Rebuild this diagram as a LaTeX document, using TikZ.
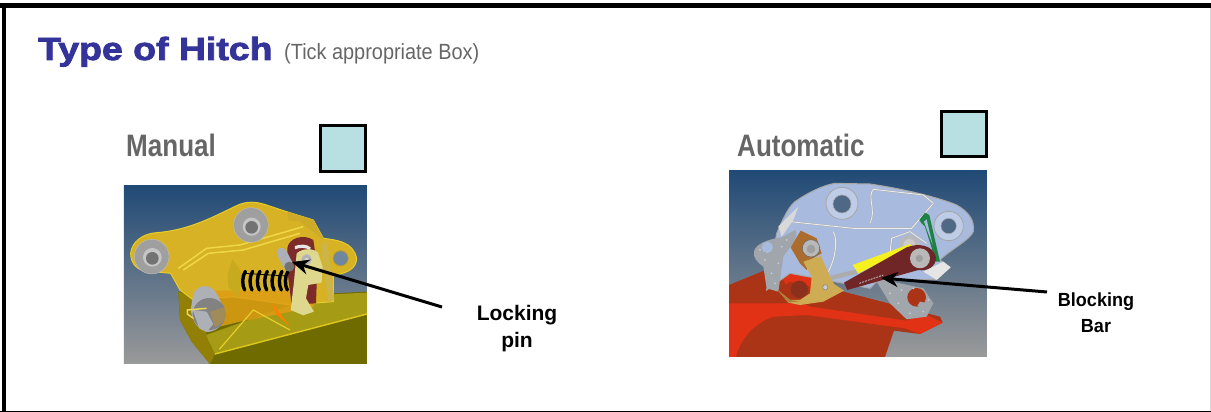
\documentclass[tikz,border=0pt]{standalone}
\usepackage{fontspec}
\setmainfont{Liberation Sans}
\newfontfamily\titlefont[FakeStretch=1.17,FakeBold=2.5]{Liberation Sans Bold}
\newfontfamily\narrowfont[FakeStretch=0.905]{Liberation Sans}
\newfontfamily\narrowbold[FakeStretch=0.84]{Liberation Sans Bold}
\newfontfamily\blockfont[FakeStretch=0.95]{Liberation Sans Bold}
\usetikzlibrary{arrows.meta}
\definecolor{titleblue}{HTML}{333399}
\definecolor{labelgrey}{HTML}{666666}
\definecolor{tickfill}{HTML}{B8E0E2}
\definecolor{skytop}{HTML}{214A76}
\definecolor{skybot}{HTML}{9A9A9A}
\tikzset{
  tickbox/.style={draw=black,line width=3pt,fill=tickfill},
  typelabel/.style={font=\narrowbold\fontsize{31}{31}\selectfont,text=labelgrey,inner sep=0pt},
  calllabel/.style={align=center,inner sep=0pt,text=black},
  callout/.style={draw=black,line width=3pt,-{Stealth[length=17pt,width=15pt]}},
  sky/.style={top color=skytop,bottom color=skybot,draw=none},
  zoomed/.style={x=0.3333pt,y=-0.3333pt},
  washer/.style={fill=#1,draw=gray!50,line width=.4pt},
  speck/.style={fill=#1,draw=none},
  ridge/.style={draw=gray!65,line width=.4pt,double=white!85!gray,double distance=.9pt}
}
\begin{document}
\begin{tikzpicture}[x=1pt,y=-1pt]
\useasboundingbox (0,0) rectangle (1211,412);
\fill[white] (0,0) rectangle (1211,412);
% frame: black on top and left, hairline at the bottom, pale on the right
\fill[black] (0,2.7) rectangle (1211,7.7);
\fill[black] (1.7,2.7) rectangle (6,412);
\fill[black] (0,411) rectangle (1211,412);
\fill[gray!30] (1209.5,7.7) rectangle (1211,411);

\node[anchor=base west,inner sep=0pt,text=titleblue,font=\titlefont\fontsize{32}{32}\selectfont] (title) at (38pt,-60pt) {Type of Hitch};
\node[anchor=base west,inner sep=0pt,text=labelgrey,font=\narrowfont\fontsize{22}{22}\selectfont] (tick) at (284pt,-60pt) {(Tick appropriate Box)};

\node[typelabel,anchor=base west] (manual) at (126pt,-157pt) {Manual};
\node[typelabel,anchor=base west] (auto) at (737pt,-157pt) {Automatic};
\node[tickbox,minimum width=45pt,minimum height=45.7pt,inner sep=0pt,outer sep=0pt,anchor=north west] (boxm) at (320.8pt,-125.5pt) {};
\node[tickbox,minimum width=45pt,minimum height=45.7pt,inner sep=0pt,outer sep=0pt,anchor=north west] (boxa) at (941pt,-111pt) {};

% ---------- manual hitch picture
\begin{scope}[shift={(100pt,-170pt)},zoomed]
\fill[sky] (72,48) rectangle (801,582);
% bucket
\fill[fill={rgb,255:red,112;green,107;blue,0}] (235,365) -- (400,385) -- (801,365) -- (801,582) -- (330,582) -- (275,515) -- (240,450) -- cycle;
\fill[fill={rgb,255:red,145;green,128;blue,5}] (235,365) -- (330,400) -- (318,495) -- (345,552) -- (330,582) -- (275,515) -- (240,450) -- cycle;
\fill[fill={rgb,255:red,166;green,155;blue,20}] (318,495) -- (660,375) -- (801,368) -- (801,432) -- (345,552) -- cycle;
\draw[line width=1.4pt,color={rgb,255:red,222;green,200;blue,30}] (345,552) -- (801,432);
% plate
\fill[fill={rgb,255:red,214;green,178;blue,36},draw={rgb,255:red,232;green,205;blue,40},line width=1pt]
  (92,250) .. controls (95,215) and (130,190) .. (170,188) .. controls (270,180) and (340,140) .. (410,107)
  .. controls (440,92) and (470,95) .. (500,105) -- (560,125) -- (640,150) -- (670,205)
  .. controls (710,210) and (760,215) .. (770,265) .. controls (770,295) and (740,312) .. (700,315)
  -- (700,395) -- (570,405) -- (400,380) -- (280,390) -- (240,360) -- (212,310) -- (130,302) .. controls (105,295) and (92,275) .. (92,250) -- cycle;
\fill[fill={rgb,255:red,112;green,134;blue,156},draw={rgb,255:red,190;green,160;blue,40},line width=.8pt] (722,265) circle[radius=23];
% ridge
\draw[line width=1.5pt,color={rgb,255:red,240;green,215;blue,70}] (235,295) -- (320,235) -- (420,225) -- (610,170);
\draw[line width=1.5pt,color={rgb,255:red,240;green,215;blue,70}] (250,300) -- (325,250) -- (430,240) -- (600,190);
% upper corner and right bar
\fill[fill={rgb,255:red,205;green,170;blue,40}] (562,125) -- (640,150) -- (672,210) -- (600,155) -- (565,150) -- cycle;
\fill[fill={rgb,255:red,205;green,180;blue,70}] (662,225) -- (682,212) -- (703,390) -- (685,398) -- cycle;
% washers
\fill[washer=gray!75] (453,165) ellipse[x radius=52,y radius=52];
\fill[fill=gray!45] (455,170) circle[radius=27];
\fill[fill=gray!90!black] (455,172) circle[radius=19];
\fill[washer=gray!75] (155,260) ellipse[x radius=52,y radius=52];
\fill[fill=gray!45] (157,262) circle[radius=28];
\fill[fill=gray!90!black] (157,265) circle[radius=19];
% amber translucent
\fill[fill={rgb,255:red,222;green,158;blue,20},opacity=.85] (345,362) -- (565,362) -- (650,385) -- (640,412) -- (420,455) -- (350,472) -- (330,432) -- cycle;
\draw[color={rgb,255:red,232;green,205;blue,40},line width=1.2pt] (358,538) -- (460,420) -- (570,480);
\fill[fill=orange] (515,398) -- (572,472) -- (528,432) -- cycle;
% cam and lever
\fill[fill={rgb,255:red,125;green,42;blue,42}] (562,235) .. controls (565,205) and (610,190) .. (640,210) -- (652,290) -- (648,400) -- (575,405) -- (562,300) -- cycle;
\fill[fill=white!80!gray] (585,228) .. controls (600,222) and (620,222) .. (632,232) -- (630,240) .. controls (615,232) and (600,232) .. (585,238) -- cycle;
\fill[fill={rgb,255:red,222;green,216;blue,142}] (590,250) .. controls (610,232) and (645,235) .. (655,250) -- (668,290) -- (665,338) -- (625,345) -- (618,385) -- (642,425) -- (610,436) -- (572,420) -- (582,335) -- cycle;
\fill[washer=gray!60] (620,268) circle[radius=15];
\fill[fill=gray!30] (620,270) circle[radius=6];
% plate by the spring
\fill[fill={rgb,255:red,200;green,170;blue,30}] (383,312) -- (398,268) -- (426,308) -- (418,382) -- (385,350) -- cycle;
% spring
\foreach \sx in {0,22,44,66,88,110,128}
  \draw[line width=3.4pt,line cap=round,black] (436+\sx,304) .. controls (426+\sx,320) and (426+\sx,345) .. (434+\sx,360);
\draw[line width=.8pt,black] (430,310) -- (560,318);
% locking pin
\draw[line width=10pt,line cap=round,color={rgb,255:red,172;green,176;blue,186}] (545,248) -- (566,288);
\fill[fill=gray!90!black] (568,290) circle[radius=15];
% lower left pin
\fill[fill={rgb,255:red,174;green,176;blue,184}] (280,372) .. controls (295,340) and (335,340) .. (352,375) -- (376,420) .. controls (380,450) and (360,482) .. (325,486) .. controls (300,482) and (280,465) .. (272,420) -- cycle;
\fill[fill=gray!60!black!70] (328,432) ellipse[x radius=50,y radius=48];
\fill[fill={rgb,255:red,222;green,158;blue,20},opacity=.35] (330,425) -- (380,410) -- (378,450) -- (345,472) -- cycle;
\fill[fill={rgb,255:red,174;green,176;blue,184}] (278,420) -- (320,425) -- (340,462) -- (320,486) -- (298,475) -- cycle;
\draw[line width=1.5pt,color={rgb,255:red,235;green,215;blue,90}] (320,415) -- (262,420) -- (262,432) -- (280,445);
\end{scope}

% ---------- automatic hitch picture
\begin{scope}[shift={(710pt,-160pt)},zoomed]
\fill[sky] (57,33) rectangle (831,591);
% bucket
\fill[fill={rgb,255:red,172;green,52;blue,22}] (57,375) -- (160,333) -- (230,335) -- (400,395) -- (690,470) -- (698,488) -- (630,522) -- (552,512) -- (525,591) -- (57,591) -- cycle;
\fill[fill={rgb,255:red,226;green,50;blue,22}] (57,430) -- (280,430) -- (300,440) -- (590,482) -- (640,460) -- (698,488) -- (630,522) -- (585,505) -- (290,465) -- (190,470) .. controls (130,490) and (90,540) .. (78,591) -- (57,591) -- cycle;
\fill[fill={rgb,255:red,226;green,50;blue,22}] (205,330) -- (300,345) -- (400,390) -- (240,398) -- cycle;
% blue plate
\fill[fill={rgb,255:red,168;green,186;blue,222},draw=gray!70,line width=1pt]
  (170,390) -- (200,220) .. controls (215,185) and (235,140) .. (255,125) .. controls (290,100) and (340,75) .. (375,70)
  -- (480,72) .. controls (570,85) and (680,110) .. (740,135) .. controls (775,155) and (795,180) .. (790,215) .. controls (780,240) and (720,270) .. (690,300)
  -- (720,322) -- (680,358) -- (570,360) -- (500,365) -- (480,385) -- (240,340) -- cycle;
% ridges
\draw[ridge] (240,185) -- (430,205) -- (605,205) -- (670,130);
\draw[ridge] (480,190) .. controls (500,150) and (470,110) .. (490,88) -- (640,105) -- (670,130);
\draw[ridge] (370,215) .. controls (385,240) and (375,300) .. (355,335);
\draw[ridge] (540,280) -- (545,235) -- (600,215) -- (650,250);
\fill[fill=white!70!gray] (205,200) -- (265,140) -- (250,180) -- (215,230) -- cycle;
% holes
\fill[fill={rgb,255:red,190;green,204;blue,232},draw=gray!70,line width=.8pt] (396,130) circle[radius=48];
\fill[fill={rgb,255:red,78;green,104;blue,134},draw=gray!70,line width=.5pt] (396,132) circle[radius=27];
\fill[fill={rgb,255:red,190;green,204;blue,232},draw=gray!70,line width=.8pt] (716,198) circle[radius=44];
\fill[fill={rgb,255:red,78;green,104;blue,134},draw=gray!70,line width=.5pt] (716,198) circle[radius=23];
\fill[fill=gray!55] (598,255) circle[radius=30];
\fill[fill=white!60!gray] (598,255) circle[radius=18];
% green spring
\fill[fill={rgb,255:red,30;green,130;blue,70}] (628,180) -- (645,158) -- (658,165) -- (690,305) -- (678,305) -- (645,200) -- (635,190) -- cycle;
\fill[fill={rgb,255:red,168;green,186;blue,222}] (642,185) -- (650,178) -- (668,255) -- cycle;
% white tip
\fill[fill=white!80!gray] (640,335) -- (700,305) -- (722,322) -- (680,360) -- cycle;
% speckled plates
\fill[fill={rgb,255:red,160;green,166;blue,172}] (132,275) .. controls (135,250) and (185,235) .. (215,232) -- (255,210) .. controls (270,230) and (240,260) .. (220,290) -- (205,395) -- (170,385) -- (160,320) .. controls (140,305) and (130,295) .. (132,275) -- cycle;
\fill[fill={rgb,255:red,168;green,186;blue,222}] (172,262) circle[radius=17];
\fill[fill={rgb,255:red,160;green,166;blue,172}] (500,365) -- (530,360) -- (560,368) -- (640,385) -- (670,430) -- (650,470) -- (590,478) -- (540,430) -- cycle;
\fill[fill={rgb,255:red,172;green,52;blue,22}] (620,412) circle[radius=28];
\fill[fill={rgb,255:red,160;green,166;blue,172}] (630,425) -- (665,432) -- (655,445) -- (622,438) -- cycle;
\foreach \px/\py in {150/270,165/300,185/340,195/370,230/240,215/260,205/310,540/400,565/430,600/460,640/455,655/420,575/390,610/385}
  \fill[speck=gray!40] (\px,\py) circle[radius=3];
% red pin
\fill[fill={rgb,255:red,172;green,52;blue,22}] (212,385) -- (240,365) -- (300,380) -- (295,420) -- (240,420) -- cycle;
\fill[fill={rgb,255:red,140;green,48;blue,30}] (268,388) circle[radius=26];
% brass lever
\fill[fill={rgb,255:red,172;green,108;blue,46}] (242,262) -- (272,212) -- (320,235) -- (335,280) -- (300,300) -- (290,330) -- (270,310) -- cycle;
\fill[fill={rgb,255:red,206;green,172;blue,84}] (280,305) -- (332,288) -- (358,345) -- (372,372) -- (402,392) -- (340,425) -- (270,435) -- (235,428) -- (205,392) -- (240,420) -- (270,420) -- (300,400) -- (305,350) -- cycle;
\fill[fill={rgb,255:red,170;green,130;blue,60}] (205,392) -- (240,420) -- (270,424) -- (235,428) -- cycle;
\fill[fill=gray!55,draw=black!60,line width=.5pt] (303,265) circle[radius=26];
\fill[fill=gray!75] (303,267) circle[radius=13];
\fill[fill=gray!40,draw=black!50,line width=.5pt] (346,382) circle[radius=8];
% rod and yellow cylinder
\draw[line width=4.5pt,color=gray!65] (364,353) -- (440,335);
\fill[fill={rgb,255:red,245;green,240;blue,30}] (428,315) -- (600,252) -- (608,262) -- (445,340) -- cycle;
% maroon arm
\fill[fill={rgb,255:red,112;green,38;blue,38}] (402,368) -- (590,262) .. controls (625,248) and (670,255) .. (678,292) .. controls (680,320) and (650,335) .. (625,330) -- (412,390) -- cycle;
\fill[fill=gray!55] (630,295) circle[radius=30];
\fill[fill=gray!75] (628,295) circle[radius=11];
\draw[line width=.8pt,color=white!60!gray,dash pattern=on 2pt off 1pt] (448,370) -- (520,345);
\end{scope}

% ---------- callouts
\coordinate (pintail) at (442pt,-307pt);
\coordinate (pintip) at (292pt,-262pt);
\coordinate (bartail) at (1047pt,-292pt);
\coordinate (bartip) at (881pt,-278pt);
\draw[callout] (pintail) -- (pintip);
\draw[callout] (bartail) -- (bartip);
\node[calllabel,font=\bfseries\fontsize{21}{27}\selectfont] (lock) at (517pt,-329pt) {Locking\\pin};
\node[calllabel,font=\blockfont\fontsize{19}{26}\selectfont] (block) at (1096pt,-313pt) {Blocking\\Bar};
\end{tikzpicture}
\end{document}
